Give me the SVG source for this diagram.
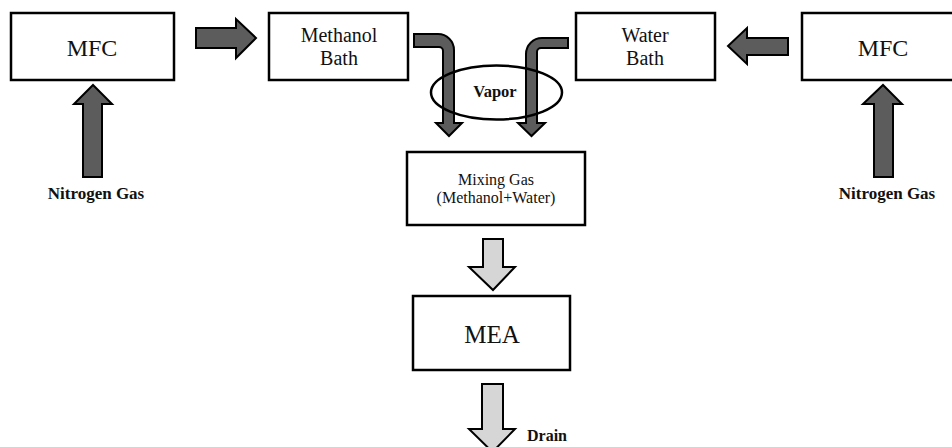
<svg xmlns="http://www.w3.org/2000/svg" width="952" height="447" viewBox="0 0 952 447">
<style>
.box{fill:#fff;stroke:#000;stroke-width:2.5}
.dark{fill:#5c5c5c;stroke:#000;stroke-width:2;stroke-linejoin:miter}
.light{fill:#d6d6d6;stroke:#000;stroke-width:2;stroke-linejoin:miter}
.t{font-family:"Liberation Serif","Times New Roman",serif;fill:#111;text-anchor:middle}
.b{font-weight:bold}
</style>
<rect width="952" height="447" fill="#fff"/>
<g id="connectors">
<polygon class="dark" points="196,28 236,28 236,19 256,38 236,58 236,48 196,48"/>
<polygon class="dark" points="83,177 83,104 74,104 93,85 112,104 102,104 102,177"/>
<polygon class="dark" points="874,177 874,104 863,104 883,85 902,104 893,104 893,177"/>
<polygon class="dark" points="788,38 747,38 747,28 728,46 747,64 747,55 788,55"/>
<path class="dark" d="M414,34 H438 A16,16 0 0 1 454,50 V123 H462 L449,136 L436,123 H443 V51 A4,4 0 0 0 439,47 H414 Z"/>
<path class="dark" d="M568,38 H542 A16,16 0 0 0 526,54 V123 H518 L531.5,136 L545,123 H537 V52 A4,4 0 0 1 541,48 H568 Z"/>
<polygon class="light" points="483,239 503,239 503,267 515,267 493,290 469,267 483,267"/>
<polygon class="light" points="482,384 503,384 503,429 515,429 492.5,452 469,429 482,429"/>
</g>
<g id="vapor">
<ellipse cx="496.5" cy="92.5" rx="65.5" ry="27" fill="none" stroke="#000" stroke-width="2.5"/>
<text class="t b" x="495" y="97" font-size="16.5">Vapor</text>
</g>
<g id="mfc-left">
<rect class="box" x="11" y="13" width="163" height="67"/>
<text class="t" x="92" y="56" font-size="24">MFC</text>
</g>
<g id="n2-left">
<text class="t b" x="96" y="199" font-size="17">Nitrogen Gas</text>
</g>
<g id="methanol-bath">
<rect class="box" x="269" y="13" width="139" height="67"/>
<text class="t" x="339" y="42" font-size="20">Methanol</text>
<text class="t" x="339" y="65" font-size="20">Bath</text>
</g>
<g id="water-bath">
<rect class="box" x="576" y="13" width="139" height="67"/>
<text class="t" x="645" y="42" font-size="20">Water</text>
<text class="t" x="645" y="65" font-size="20">Bath</text>
</g>
<g id="mfc-right">
<rect class="box" x="802" y="13" width="160" height="67"/>
<text class="t" x="883" y="56" font-size="24">MFC</text>
</g>
<g id="n2-right">
<text class="t b" x="887" y="199" font-size="17">Nitrogen Gas</text>
</g>
<g id="mixing-gas">
<rect class="box" x="407" y="152" width="178" height="73"/>
<text class="t" x="496" y="185" font-size="16">Mixing Gas</text>
<text class="t" x="496" y="203" font-size="16">(Methanol+Water)</text>
</g>
<g id="mea">
<rect class="box" x="413" y="296" width="157" height="74"/>
<text class="t" x="492" y="343" font-size="25">MEA</text>
</g>
<g id="drain">
<text class="t b" x="547" y="441" font-size="16">Drain</text>
</g>
</svg>
